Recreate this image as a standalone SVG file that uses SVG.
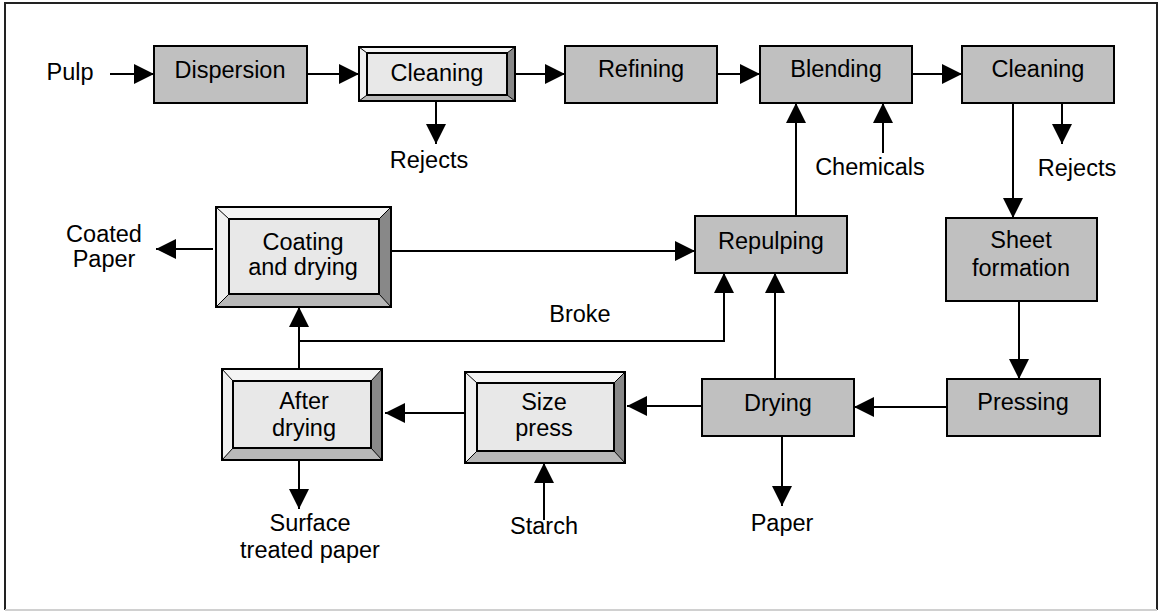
<svg xmlns="http://www.w3.org/2000/svg" width="1160" height="612" viewBox="0 0 1160 612">
  <defs>
    <marker id="head" markerUnits="userSpaceOnUse" markerWidth="20" markerHeight="20" refX="20" refY="10" orient="auto">
      <path d="M0,0 L20,10 L0,20 Z" fill="#000"/>
    </marker>
    <style>
      .box { fill: #c0c0c0; stroke: #000; stroke-width: 2; }
      .face { fill: #e8e8e8; stroke: #000; stroke-width: 2; }
      .bt { fill: #f4f4f4; }
      .bl { fill: #f0f0f0; }
      .bb { fill: #b8b8b8; }
      .br { fill: #888888; }
      .edge { stroke: #000; stroke-width: 1; fill: none; }
      .outer { fill: none; stroke: #000; stroke-width: 2; }
      .lbl { font-family: "Liberation Sans", Arial, sans-serif; font-size: 23.5px; fill: #000; text-anchor: middle; }
      .conn { stroke: #000; stroke-width: 2; fill: none; marker-end: url(#head); }
      .plain { stroke: #000; stroke-width: 2; fill: none; }
    </style>
  </defs>

  <rect width="1160" height="612" fill="#fff"/>
  <!-- frame -->
  <path d="M5,610 V3 H1157 V610" fill="none" stroke="#222" stroke-width="2"/>
  <line x1="5" y1="610" x2="1157" y2="610" stroke="#d0d0d0" stroke-width="2"/>

  <!-- connectors -->
  <g id="connectors">
    <line class="conn" x1="110" y1="74" x2="154" y2="74"/>
    <line class="conn" x1="307" y1="74" x2="359" y2="74"/>
    <line class="conn" x1="515" y1="74" x2="565" y2="74"/>
    <line class="conn" x1="717" y1="74" x2="760" y2="74"/>
    <line class="conn" x1="912" y1="74" x2="962" y2="74"/>
    <line class="conn" x1="436" y1="101" x2="436" y2="144"/>
    <line class="conn" x1="883" y1="153" x2="883" y2="103"/>
    <line class="conn" x1="796" y1="216" x2="796" y2="103"/>
    <line class="conn" x1="1062" y1="103" x2="1062" y2="144"/>
    <line class="conn" x1="1013" y1="103" x2="1013" y2="218"/>
    <line class="conn" x1="1019" y1="301" x2="1019" y2="379"/>
    <line class="conn" x1="947" y1="407" x2="854" y2="407"/>
    <line class="conn" x1="702" y1="406" x2="627" y2="406"/>
    <line class="conn" x1="465" y1="413" x2="385" y2="413"/>
    <line class="conn" x1="782" y1="436" x2="782" y2="506"/>
    <line class="conn" x1="544" y1="520" x2="544" y2="463"/>
    <line class="conn" x1="299" y1="461" x2="299" y2="509"/>
    <line class="conn" x1="299" y1="369" x2="299" y2="307"/>
    <path class="conn" d="M299,341 H724 V273"/>
    <line class="conn" x1="391" y1="251" x2="695" y2="251"/>
    <line class="conn" x1="213" y1="249" x2="156" y2="249"/>
    <line class="conn" x1="775" y1="379" x2="775" y2="273"/>
  </g>

  <!-- plain process boxes -->
  <g id="dispersion">
    <rect class="box" x="154" y="46" width="153" height="57"/>
    <text class="lbl" x="230" y="78">Dispersion</text>
  </g>
  <g id="refining">
    <rect class="box" x="565" y="46" width="152" height="57"/>
    <text class="lbl" x="641" y="77">Refining</text>
  </g>
  <g id="blending">
    <rect class="box" x="760" y="46" width="152" height="57"/>
    <text class="lbl" x="836" y="77">Blending</text>
  </g>
  <g id="cleaning2">
    <rect class="box" x="962" y="46" width="152" height="57"/>
    <text class="lbl" x="1038" y="77">Cleaning</text>
  </g>
  <g id="repulping">
    <rect class="box" x="695" y="216" width="152" height="57"/>
    <text class="lbl" x="771" y="249">Repulping</text>
  </g>
  <g id="sheet-formation">
    <rect class="box" x="946" y="218" width="151" height="83"/>
    <text class="lbl" x="1021" y="248">Sheet</text>
    <text class="lbl" x="1021" y="276">formation</text>
  </g>
  <g id="pressing">
    <rect class="box" x="947" y="379" width="153" height="57"/>
    <text class="lbl" x="1023" y="410">Pressing</text>
  </g>
  <g id="drying">
    <rect class="box" x="702" y="379" width="152" height="57"/>
    <text class="lbl" x="778" y="411">Drying</text>
  </g>

  <!-- bevelled boxes -->
  <g id="cleaning1">
    <polygon class="bt" points="359,47 515,47 507,53 367,53"/>
    <polygon class="bl" points="359,47 367,53 367,95 359,101"/>
    <polygon class="bb" points="359,101 367,95 507,95 515,101"/>
    <polygon class="br" points="515,47 515,101 507,95 507,53"/>
    <path class="edge" d="M359,47 L367,53 M515,47 L507,53 M359,101 L367,95 M515,101 L507,95"/>
    <rect class="face" x="367" y="53" width="140" height="42"/>
    <rect class="outer" x="359" y="47" width="156" height="54"/>
    <text class="lbl" x="437" y="81">Cleaning</text>
  </g>
  <g id="coating">
    <polygon class="bt" points="216,207 391,207 379,219 229,219"/>
    <polygon class="bl" points="216,207 229,219 229,294 216,307"/>
    <polygon class="bb" points="216,307 229,294 379,294 391,307"/>
    <polygon class="br" points="391,207 391,307 379,294 379,219"/>
    <path class="edge" d="M216,207 L229,219 M391,207 L379,219 M216,307 L229,294 M391,307 L379,294"/>
    <rect class="face" x="229" y="219" width="150" height="75"/>
    <rect class="outer" x="216" y="207" width="175" height="100"/>
    <text class="lbl" x="303" y="250">Coating</text>
    <text class="lbl" x="303" y="275">and drying</text>
  </g>
  <g id="after-drying">
    <polygon class="bt" points="222,369 382,369 371,381 233,381"/>
    <polygon class="bl" points="222,369 233,381 233,448 222,460"/>
    <polygon class="bb" points="222,460 233,448 371,448 382,460"/>
    <polygon class="br" points="382,369 382,460 371,448 371,381"/>
    <path class="edge" d="M222,369 L233,381 M382,369 L371,381 M222,460 L233,448 M382,460 L371,448"/>
    <rect class="face" x="233" y="381" width="138" height="67"/>
    <rect class="outer" x="222" y="369" width="160" height="91"/>
    <text class="lbl" x="304" y="409">After</text>
    <text class="lbl" x="304" y="436">drying</text>
  </g>
  <g id="size-press">
    <polygon class="bt" points="465,372 625,372 614,383 477,383"/>
    <polygon class="bl" points="465,372 477,383 477,451 465,463"/>
    <polygon class="bb" points="465,463 477,451 614,451 625,463"/>
    <polygon class="br" points="625,372 625,463 614,451 614,383"/>
    <path class="edge" d="M465,372 L477,383 M625,372 L614,383 M465,463 L477,451 M625,463 L614,451"/>
    <rect class="face" x="477" y="383" width="137" height="68"/>
    <rect class="outer" x="465" y="372" width="160" height="91"/>
    <text class="lbl" x="544" y="410">Size</text>
    <text class="lbl" x="544" y="436">press</text>
  </g>

  <!-- stream labels -->
  <g id="labels">
    <text class="lbl" x="70" y="80">Pulp</text>
    <text class="lbl" x="429" y="168">Rejects</text>
    <text class="lbl" x="870" y="175">Chemicals</text>
    <text class="lbl" x="1077" y="176">Rejects</text>
    <text class="lbl" x="104" y="242">Coated</text>
    <text class="lbl" x="104" y="267">Paper</text>
    <text class="lbl" x="580" y="322">Broke</text>
    <text class="lbl" x="782" y="531">Paper</text>
    <text class="lbl" x="544" y="534">Starch</text>
    <text class="lbl" x="310" y="531">Surface</text>
    <text class="lbl" x="310" y="558">treated paper</text>
  </g>
</svg>
